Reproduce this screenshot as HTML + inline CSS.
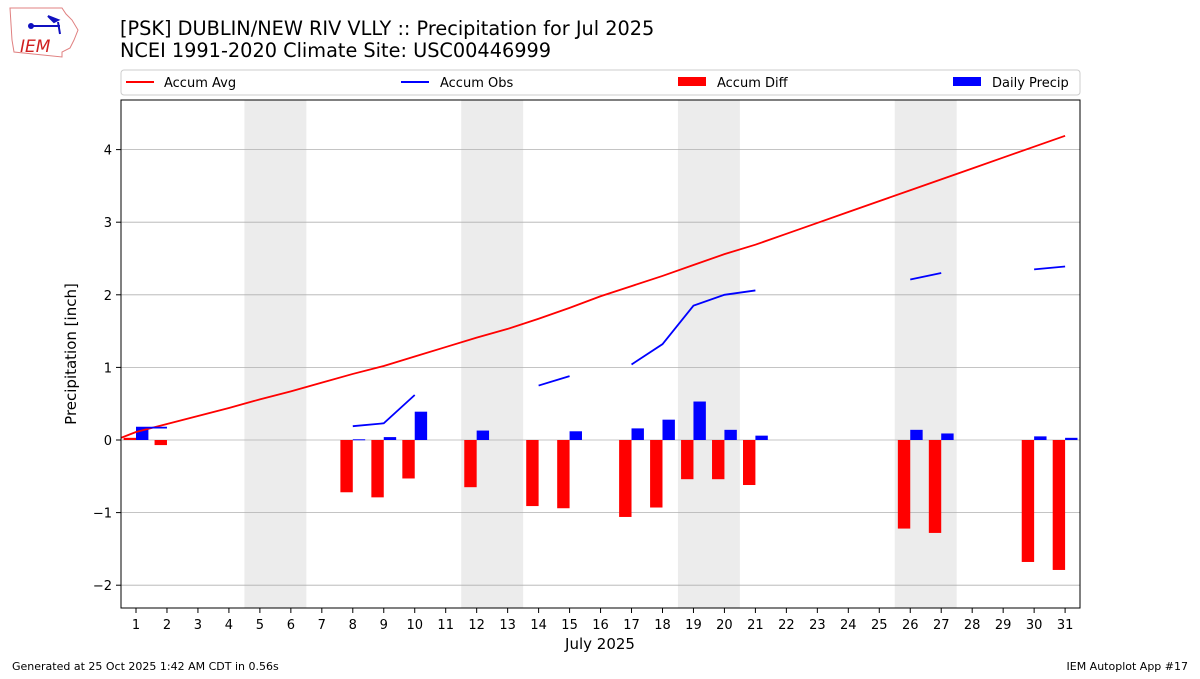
<!DOCTYPE html>
<html><head><meta charset="utf-8"><style>
body{margin:0;background:#fff;width:1200px;height:675px;overflow:hidden;font-family:"DejaVu Sans","Liberation Sans",sans-serif}
svg text{font-family:"DejaVu Sans","Liberation Sans",sans-serif}
</style></head><body>
<svg id="s" width="1200" height="675" xmlns="http://www.w3.org/2000/svg">
<path d="M10,8 L62,8 L66,14 L72,20 L78,30 L74,40 L70,48 L62,52 L62,57 L14,52 L12,40 Z" fill="none" stroke="#e08080" stroke-width="1"/>
<text x="20" y="52" font-family="Liberation Serif" font-style="italic" font-size="17" fill="#d02020">IEM</text>
<line x1="30" y1="26" x2="60" y2="26" stroke="#1010c0" stroke-width="2"/>
<circle cx="31" cy="26" r="3" fill="#1010c0"/>
<path d="M48,16 L58,20 L54,22Z M58,22 L60,34" stroke="#1010c0" fill="#1010c0" stroke-width="2"/>
<text x="120" y="35" font-size="19.3">[PSK] DUBLIN/NEW RIV VLLY :: Precipitation for Jul 2025</text>
<text x="120" y="57" font-size="19.3">NCEI 1991-2020 Climate Site: USC00446999</text>
<g id="g"></g>
<text x="12" y="670" font-size="11">Generated at 25 Oct 2025 1:42 AM CDT in 0.56s</text>
<text x="1188" y="670" font-size="11" text-anchor="end">IEM Autoplot App #17</text>
</svg>
<script>
var g=document.getElementById('g'),h='';
function X(d){return 136+(d-1)*30.97}
function Y(v){return 440-v*72.6}
[4.5,11.5,18.5,25.5].forEach(function(d){h+='<rect x="'+X(d)+'" y="100" width="61.94" height="508" fill="#ececec"/>'});
[-2,-1,0,1,2,3,4].forEach(function(v){h+='<line x1="121" x2="1080" y1="'+Y(v)+'" y2="'+Y(v)+'" stroke="#b0b0b0" stroke-width="0.8"/>';
h+='<line x1="116" x2="121" y1="'+Y(v)+'" y2="'+Y(v)+'" stroke="#000"/><text x="112" y="'+(Y(v)+5)+'" font-size="13" text-anchor="end">'+(v<0?'\u2212'+(-v):v)+'</text>'});
for(var d=1;d<=31;d++){h+='<line x1="'+X(d)+'" x2="'+X(d)+'" y1="608" y2="613" stroke="#000"/><text x="'+X(d)+'" y="629" font-size="13" text-anchor="middle">'+d+'</text>'}
var diff={1:0.03,2:-0.07,8:-0.72,9:-0.79,10:-0.53,12:-0.65,14:-0.91,15:-0.94,17:-1.06,18:-0.93,19:-0.54,20:-0.54,21:-0.62,26:-1.22,27:-1.28,30:-1.68,31:-1.79};
for(var k in diff){var v=diff[k];h+='<rect x="'+(X(+k)-12.4)+'" width="12.4" y="'+Math.min(Y(0),Y(v))+'" height="'+Math.abs(v*72.6)+'" fill="#f00"/>'}
var dp={1:0.17,8:0.01,9:0.04,10:0.39,12:0.13,15:0.12,17:0.16,18:0.28,19:0.53,20:0.14,21:0.06,26:0.14,27:0.09,30:0.05,31:0.03};
for(var k in dp){var v=dp[k];h+='<rect x="'+X(+k)+'" width="12.4" y="'+Y(v)+'" height="'+Math.max(1,v*72.6)+'" fill="#00f"/>'}
var avg=[0.11,0.22,0.33,0.44,0.56,0.67,0.79,0.91,1.02,1.15,1.28,1.41,1.53,1.67,1.82,1.98,2.12,2.26,2.41,2.56,2.69,2.84,2.99,3.14,3.29,3.44,3.59,3.74,3.89,4.04,4.19];
var p='121,'+Y(0.03);avg.forEach(function(v,i){p+=' '+X(i+1)+','+Y(v)});
h+='<polyline points="'+p+'" fill="none" stroke="#f00" stroke-width="1.8"/>';
[[[1,0.17],[2,0.17]],[[8,0.19],[9,0.23],[10,0.62]],[[14,0.75],[15,0.88]],[[17,1.04],[18,1.32],[19,1.85],[20,2.0],[21,2.06]],[[26,2.21],[27,2.3]],[[30,2.35],[31,2.39]]].forEach(function(s){
h+='<polyline points="'+s.map(function(q){return X(q[0])+','+Y(q[1])}).join(' ')+'" fill="none" stroke="#00f" stroke-width="1.8"/>'});
h+='<rect x="121" y="100" width="959" height="508" fill="none" stroke="#000" stroke-width="1"/>';
h+='<text x="76" y="354" font-size="15" text-anchor="middle" transform="rotate(-90 76 354)">Precipitation [inch]</text>';
h+='<text x="600" y="649" font-size="15" text-anchor="middle">July 2025</text>';
h+='<rect x="121" y="70" width="959" height="25" rx="3" fill="#fff" stroke="#ccc"/>';
h+='<line x1="126" x2="154" y1="82" y2="82" stroke="#f00" stroke-width="2"/><text x="164" y="87" font-size="13">Accum Avg</text>';
h+='<line x1="401" x2="429" y1="82" y2="82" stroke="#00f" stroke-width="2"/><text x="440" y="87" font-size="13">Accum Obs</text>';
h+='<rect x="678" y="77" width="28" height="9" fill="#f00"/><text x="717" y="87" font-size="13">Accum Diff</text>';
h+='<rect x="953" y="77" width="28" height="9" fill="#00f"/><text x="992" y="87" font-size="13">Daily Precip</text>';
g.innerHTML=h;
</script>
</body></html>
